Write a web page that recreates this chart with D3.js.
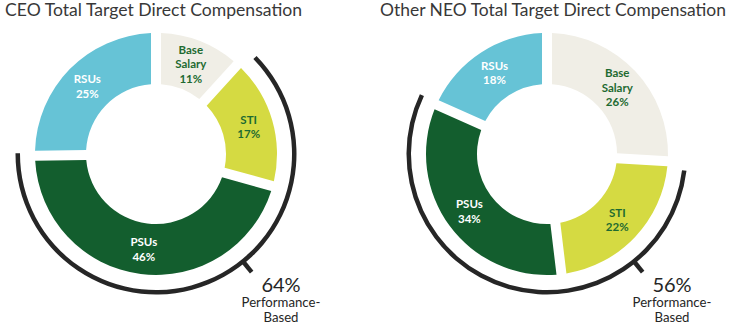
<!DOCTYPE html>
<html><head><meta charset="utf-8">
<script src="https://cdn.jsdelivr.net/npm/d3@7"></script>
<style>
html,body{margin:0;padding:0;background:#fff;}
svg{display:block;}
</style></head>
<body>
<svg id="chart" width="730" height="326"></svg>
<script>
// ---- data ----
const categories = ["Base Salary", "STI", "PSUs", "RSUs"];
const ceoValues = [11, 17, 46, 25];
const neoValues = [26, 22, 34, 18];
const chartTitles = ["CEO Total Target Direct Compensation", "Other NEO Total Target Direct Compensation"];
const perfShareLabels = ["64%", "56%"];
const perfCategories = ["STI", "PSUs"];
const perfCaption = ["Performance-", "Based"];

// ---- style ----
const colors = {"Base Salary":"#F0EEE6", "STI":"#D5DA42", "PSUs":"#135E2E", "RSUs":"#66C3D6"};
const labelColors = {"Base Salary":"#1E6A31", "STI":"#1E6A31", "PSUs":"#ffffff", "RSUs":"#ffffff"};
const FONT = "Lato, 'Open Sans', sans-serif";

const svg = d3.select("#chart");

const panels = [
  {values: ceoValues, title: chartTitles[0], share: perfShareLabels[0], cx: 156, cy: 154, titleX: 5, titleW: 297, textX: 281},
  {values: neoValues, title: chartTitles[1], share: perfShareLabels[1], cx: 547, cy: 154, titleX: 380, titleW: 346, textX: 672}
];

const rIn = 70, rOut = 121;
const gap = 10;
const padR = Math.sqrt(rIn*rIn + rOut*rOut);

panels.forEach(p => {
  const data = categories.map((c,i) => ({cat: c, value: p.values[i]}));
  const pie = d3.pie().sort(null).value(d => d.value).padAngle(gap/padR);
  const arcs = pie(data);
  const arc = d3.arc().innerRadius(rIn).outerRadius(rOut).padRadius(padR);
  const labelArc = d3.arc().innerRadius(rIn + 27).outerRadius(rOut - 27 + 2);

  svg.append("text")
    .attr("x", p.titleX).attr("y", 16)
    .attr("font-family", FONT).attr("font-size", 17)
    .attr("textLength", p.titleW).attr("lengthAdjust", "spacingAndGlyphs")
    .attr("fill", "#383838")
    .text(p.title);

  const g = svg.append("g").attr("transform", `translate(${p.cx},${p.cy})`);

  g.selectAll("path.slice").data(arcs).join("path")
    .attr("class", "slice")
    .attr("d", arc)
    .attr("fill", d => colors[d.data.cat]);

  // labels
  arcs.forEach(d => {
    const [x, y] = labelArc.centroid(d);
    const lines = d.data.cat.split(" ").concat([d.data.value + "%"]);
    const lh = 14.5;
    const t = g.append("text")
      .attr("text-anchor", "middle")
      .attr("font-family", FONT).attr("font-weight", "bold").attr("font-size", 11.5)
      .attr("fill", labelColors[d.data.cat]);
    lines.forEach((ln, i) => {
      t.append("tspan").attr("x", x)
        .attr("y", y + (i - (lines.length - 1)/2) * lh + 4)
        .text(ln);
    });
  });

  // performance-based bracket
  const perfArcs = arcs.filter(d => perfCategories.includes(d.data.cat));
  const a0 = d3.min(perfArcs, d => d.startAngle) + 0.06;
  const a1 = d3.max(perfArcs, d => d.endAngle) + 0.02;
  const bracket = d3.arc().innerRadius(136).outerRadius(140.5);
  g.append("path")
    .attr("d", bracket({startAngle: a0, endAngle: a1}))
    .attr("fill", "#262626");

  const tickA = 141 * Math.PI / 180;
  g.append("line")
    .attr("x1", 138 * Math.sin(tickA)).attr("y1", -138 * Math.cos(tickA))
    .attr("x2", 152 * Math.sin(tickA)).attr("y2", -152 * Math.cos(tickA))
    .attr("stroke", "#262626").attr("stroke-width", 4.5);

  svg.append("text")
    .attr("x", p.textX).attr("y", 292)
    .attr("text-anchor", "middle")
    .attr("font-family", FONT).attr("font-size", 20)
    .attr("fill", "#262626")
    .text(p.share);
  perfCaption.forEach((c, i) => {
    svg.append("text")
      .attr("x", p.textX).attr("y", 307 + i * 15)
      .attr("text-anchor", "middle")
      .attr("font-family", FONT).attr("font-size", 13.2)
      .attr("fill", "#262626")
      .text(c);
  });
});
</script>
</body></html>
